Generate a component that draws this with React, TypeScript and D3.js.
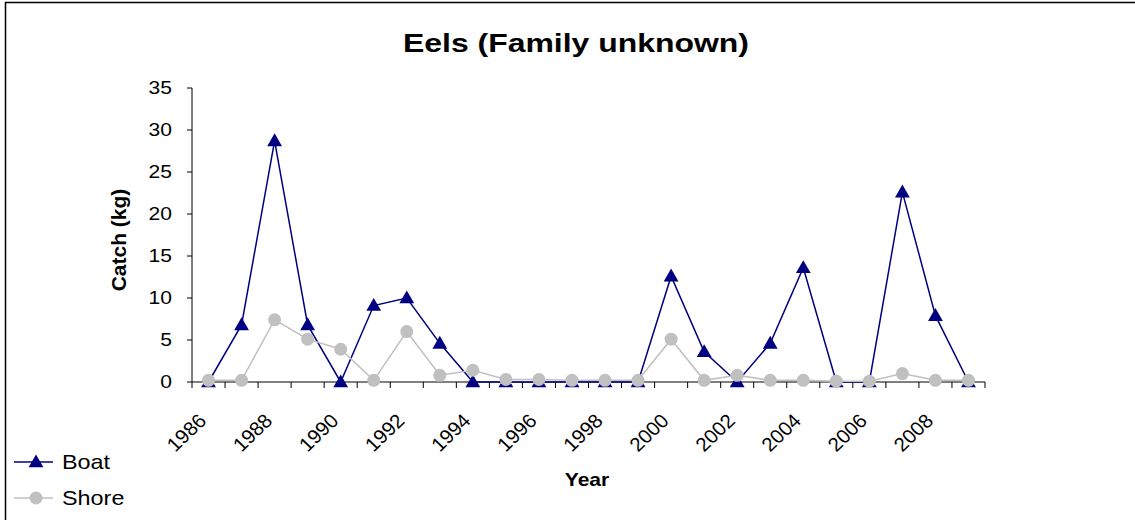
import { useEffect, useRef } from "react";
import * as d3 from "d3";

const years = d3.range( 1986, 2010 ).map( String );
const boat = [ 0, 6.8, 28.7, 6.8, 0, 9.1, 10, 4.6, 0, 0, 0, 0, 0, 0, 12.6, 3.6, 0, 4.6, 13.6, 0, 0, 22.6, 7.9, 0 ];
const shore = [ 0.2, 0.2, 7.4, 5.1, 3.9, 0.2, 6.0, 0.8, 1.4, 0.3, 0.3, 0.2, 0.2, 0.2, 5.1, 0.2, 0.8, 0.2, 0.2, 0.1, 0.1, 1.0, 0.2, 0.2 ];
const yTicks = [ 0, 5, 10, 15, 20, 25, 30, 35 ];
const labelYears = years.filter( ( _, i ) => i % 2 === 0 );

const FONT = "Liberation Sans, Arial, sans-serif";
const BOAT_COLOR = "#000080";
const SHORE_COLOR = "#C0C0C0";
// the reference text is a bit wider than plain Arial
const STRETCH = 1.17;

export default function App ()
{
    const svgRef = useRef<SVGSVGElement>( null );

    useEffect( () =>
    {
        if ( !svgRef.current ) return;
        const svg = d3.select( svgRef.current );
        svg.selectAll( "*" ).remove();

        const W = 1135, H = 520;
        const m = { left: 192, right: 150, top: 88, bottom: 138 };
        const w = W - m.left - m.right;
        const h = H - m.top - m.bottom;

        // frame (right and bottom edges sit outside the picture)
        svg.append( "rect" ).attr( "x", 5.5 ).attr( "y", 2.5 ).attr( "width", W + 20 ).attr( "height", H + 20 )
            .attr( "fill", "white" ).attr( "stroke", "#000" ).attr( "stroke-width", 1.5 );

        const g = svg.append( "g" ).attr( "transform", `translate(${ m.left },${ m.top })` );

        const x = d3.scaleBand<string>().domain( years ).range( [ 0, w ] ).padding( 0 );
        const y = d3.scaleLinear().domain( [ 0, 35 ] ).range( [ h, 0 ] );
        const cx = ( d: string ) => ( x( d ) ?? 0 ) + x.bandwidth() / 2;

        // Y axis
        g.append( "line" ).attr( "x1", 0 ).attr( "x2", 0 ).attr( "y1", 0 ).attr( "y2", h ).attr( "stroke", "#000" );
        g.append( "g" ).selectAll( "line" ).data( yTicks ).join( "line" )
            .attr( "x1", -5 ).attr( "x2", 0 ).attr( "y1", ( d ) => y( d ) ).attr( "y2", ( d ) => y( d ) ).attr( "stroke", "#000" );
        g.append( "g" ).selectAll( "text" ).data( yTicks ).join( "text" )
            .attr( "transform", ( d ) => `translate(-20,${ y( d ) }) scale(${ STRETCH },1)` )
            .attr( "dy", "0.35em" ).attr( "text-anchor", "end" )
            .style( "font-family", FONT ).style( "font-size", "18px" ).text( ( d ) => d );

        // X axis
        g.append( "line" ).attr( "x1", 0 ).attr( "x2", w ).attr( "y1", h ).attr( "y2", h ).attr( "stroke", "#000" );
        g.append( "g" ).selectAll( "line" ).data( d3.range( years.length + 1 ) ).join( "line" )
            .attr( "x1", ( i ) => i * x.bandwidth() ).attr( "x2", ( i ) => i * x.bandwidth() )
            .attr( "y1", h ).attr( "y2", h + 6 ).attr( "stroke", "#000" );
        g.append( "g" ).selectAll( "text" ).data( labelYears ).join( "text" )
            .attr( "transform", ( d ) => `translate(${ cx( d ) - 1 },${ h + 40 }) scale(1.05,1) rotate(-45)` )
            .attr( "text-anchor", "end" )
            .style( "font-family", FONT ).style( "font-size", "19.5px" ).text( ( d ) => d );

        // Lines (shore is drawn over boat)
        const line = ( vals: number[] ) => d3.line<string>().x( ( d ) => cx( d ) ).y( ( _, i ) => y( vals[ i ] ) )( years );
        const tri = d3.symbol().type( d3.symbolTriangle ).size( 95 );

        g.append( "path" ).attr( "d", line( boat ) ).attr( "fill", "none" ).attr( "stroke", BOAT_COLOR ).attr( "stroke-width", 1.5 );
        g.append( "g" ).selectAll( "path" ).data( years ).join( "path" )
            .attr( "d", tri ).attr( "transform", ( d, i ) => `translate(${ cx( d ) },${ y( boat[ i ] ) + 1 })` ).attr( "fill", BOAT_COLOR );

        g.append( "path" ).attr( "d", line( shore ) ).attr( "fill", "none" ).attr( "stroke", SHORE_COLOR ).attr( "stroke-width", 1.5 );
        g.append( "g" ).selectAll( "circle" ).data( years ).join( "circle" )
            .attr( "cx", ( d ) => cx( d ) ).attr( "cy", ( _, i ) => y( shore[ i ] ) ).attr( "r", 6.5 ).attr( "fill", SHORE_COLOR );

        // Titles
        svg.append( "text" ).attr( "x", 576 ).attr( "y", 52 ).attr( "text-anchor", "middle" )
            .attr( "textLength", 346 ).attr( "lengthAdjust", "spacingAndGlyphs" )
            .style( "font-family", FONT ).style( "font-size", "26px" ).style( "font-weight", "bold" ).text( "Eels (Family unknown)" );
        svg.append( "text" ).attr( "transform", `translate(126,240) rotate(-90)` ).attr( "text-anchor", "middle" )
            .style( "font-family", FONT ).style( "font-size", "21px" ).style( "font-weight", "bold" ).text( "Catch (kg)" );
        svg.append( "text" ).attr( "transform", `translate(587,486) scale(${ STRETCH },1)` ).attr( "text-anchor", "middle" )
            .style( "font-family", FONT ).style( "font-size", "18px" ).style( "font-weight", "bold" ).text( "Year" );

        // Legend
        const legend = [ { name: "Boat", color: BOAT_COLOR, tri: true }, { name: "Shore", color: SHORE_COLOR, tri: false } ];
        const lg = svg.append( "g" ).selectAll( "g" ).data( legend ).join( "g" )
            .attr( "transform", ( _, i ) => `translate(14,${ 462 + i * 36 })` );
        lg.append( "line" ).attr( "x1", 0 ).attr( "x2", 39 ).attr( "stroke", ( d ) => d.color ).attr( "stroke-width", 1.5 );
        lg.filter( ( d ) => d.tri ).append( "path" ).attr( "d", tri ).attr( "transform", "translate(22,1)" ).attr( "fill", ( d ) => d.color );
        lg.filter( ( d ) => !d.tri ).append( "circle" ).attr( "cx", 22 ).attr( "r", 6.5 ).attr( "fill", ( d ) => d.color );
        lg.append( "text" ).attr( "transform", `translate(48,0) scale(${ STRETCH },1)` ).attr( "dy", "0.35em" )
            .style( "font-family", FONT ).style( "font-size", "20px" ).text( ( d ) => d.name );
    }, [] );

    return (
        <div style={ { position: "absolute", left: 0, top: 0, width: 1135, height: 520, overflow: "hidden" } }>
            <svg ref={ svgRef } width={ 1135 } height={ 520 } />
        </div>
    );
}
